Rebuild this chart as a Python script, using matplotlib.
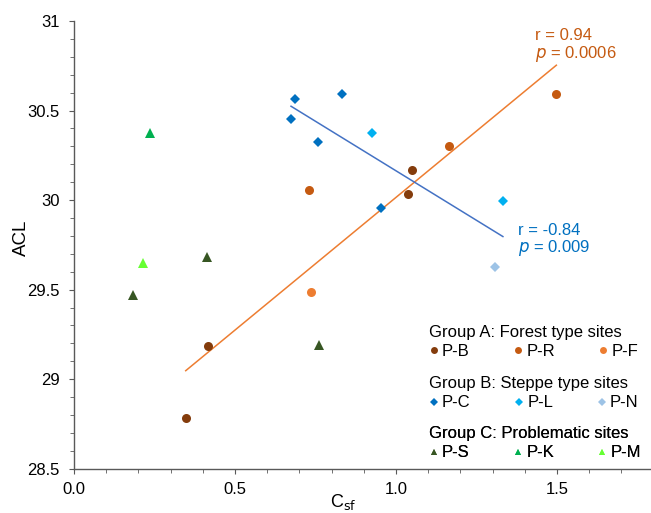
import numpy as np
import matplotlib.pyplot as plt
from matplotlib.ticker import MultipleLocator
from matplotlib.lines import Line2D

plt.rcParams['font.family'] = ['Liberation Sans', 'DejaVu Sans']

# Group A: forest type sites
pb_x = [0.347, 0.417, 1.036, 1.051]
pb_y = [28.782, 29.187, 30.033, 30.169]
pr_x = [0.730, 1.166, 1.498]
pr_y = [30.057, 30.301, 30.595]
pf_x = [0.735]
pf_y = [29.485]

# Group B: steppe type sites
pc_x = [0.686, 0.674, 0.757, 0.832, 0.952]
pc_y = [30.567, 30.454, 30.325, 30.592, 29.955]
pl_x = [0.927, 1.332]
pl_y = [30.377, 29.997]
pn_x = [1.309]
pn_y = [29.628]

# Group C: problematic sites
ps_x = [0.183, 0.412, 0.762]
ps_y = [29.470, 29.684, 29.193]
pk_x = [0.235]
pk_y = [30.375]
pm_x = [0.215]
pm_y = [29.647]

fig = plt.figure(figsize=(6.51, 5.13), dpi=100)
ax = fig.add_axes([74 / 651, (513 - 468.7) / 513, (653.6 - 74) / 651, (468.7 - 21) / 513])

ms = 6.5
series = [
    ("P-B", pb_x, pb_y, "o", "#843C0C", ms),
    ("P-R", pr_x, pr_y, "o", "#C55A11", ms),
    ("P-F", pf_x, pf_y, "o", "#ED7D31", ms),
    ("P-C", pc_x, pc_y, "D", "#0070C0", 5),
    ("P-L", pl_x, pl_y, "D", "#00B0F0", 5),
    ("P-N", pn_x, pn_y, "D", "#9DC3E6", 5),
    ("P-S", ps_x, ps_y, "^", "#375623", 6.5),
    ("P-K", pk_x, pk_y, "^", "#00B050", 6.5),
    ("P-M", pm_x, pm_y, "^", "#66FF33", 6.5),
]
handles = {}
for name, xs, ys, m, c, s in series:
    h, = ax.plot(xs, ys, m, color=c, markersize=s, markeredgewidth=0, linestyle="none", zorder=4)
    handles[name] = h

# regression lines for group A and group B
ax_ = np.array(pb_x + pr_x + pf_x)
ay_ = np.array(pb_y + pr_y + pf_y)
ka, ba = np.polyfit(ax_, ay_, 1)
xa = np.array([ax_.min(), ax_.max()])
ax.plot(xa, ka * xa + ba, color="#ED7D31", lw=1.1, zorder=3)

bx_ = np.array(pc_x + pl_x + pn_x)
by_ = np.array(pc_y + pl_y + pn_y)
kb, bb = np.polyfit(bx_, by_, 1)
xb = np.array([bx_.min(), bx_.max()])
ax.plot(xb, kb * xb + bb, color="#4472C4", lw=1.1, zorder=3)

ax.text(1.432, 30.862, "r = 0.94\n$\\it{p}$ = 0.0006", color="#C55A11", fontsize=12,
        va="center", ha="left", linespacing=1.05)
ax.text(1.380, 29.772, "r = -0.84\n$\\it{p}$ = 0.009", color="#0070C0", fontsize=12,
        va="center", ha="left", linespacing=1.0)

ax.set_xlim(0, 1.8)
ax.set_ylim(28.5, 31)
ax.xaxis.set_minor_locator(MultipleLocator(0.1))
ax.yaxis.set_minor_locator(MultipleLocator(0.1))
ax.set_xticks([0, 0.5, 1.0, 1.5])
ax.set_xticklabels(["0.0", "0.5", "1.0", "1.5"])
ax.set_yticks([28.5, 29, 29.5, 30, 30.5, 31])
ax.set_yticklabels(["28.5", "29", "29.5", "30", "30.5", "31"])

for s in ["top", "right"]:
    ax.spines[s].set_visible(False)
for s in ["left", "bottom"]:
    ax.spines[s].set_color("#595959")
    ax.spines[s].set_linewidth(1.0)
ax.tick_params(which="major", length=3.5, color="#595959", labelsize=12)
ax.tick_params(axis="y", which="major", pad=7)
ax.tick_params(axis="x", which="major", pad=6)
ax.tick_params(which="minor", length=3, color="#595959")

ax.set_ylabel("ACL", fontsize=13.5)
ax.yaxis.set_label_coords(-0.076, 0.515)
ax.set_xlabel("C$_{\\mathrm{sf}}$", fontsize=13)
ax.xaxis.set_label_coords(0.464, -0.052)

groups = [
    ("Group A: Forest type sites", ["P-B", "P-R", "P-F"], 0.322),
    ("Group B: Steppe type sites", ["P-C", "P-L", "P-N"], 0.2065),
    ("Group C: Problematic sites", ["P-S", "P-K", "P-M"], 0.0948),
]
for title, names, yy in groups:
    hs = [Line2D([], [], marker=handles[n].get_marker(), color=handles[n].get_color(),
                 markersize=5 if handles[n].get_marker() != "D" else 4,
                 markeredgewidth=0, linestyle="none") for n in names]
    leg = ax.legend(hs, names, title=title, ncol=3, frameon=False, fontsize=12,
                    title_fontsize=12, loc="upper left", bbox_to_anchor=(0.612, yy),
                    handlelength=0.6, handletextpad=0.2, columnspacing=2.6,
                    borderpad=0, borderaxespad=0, labelspacing=0.2)
    leg._legend_box.align = "left"
    leg._legend_box.sep = 3
    ax.add_artist(leg)

fig.savefig("out.png", dpi=100)
